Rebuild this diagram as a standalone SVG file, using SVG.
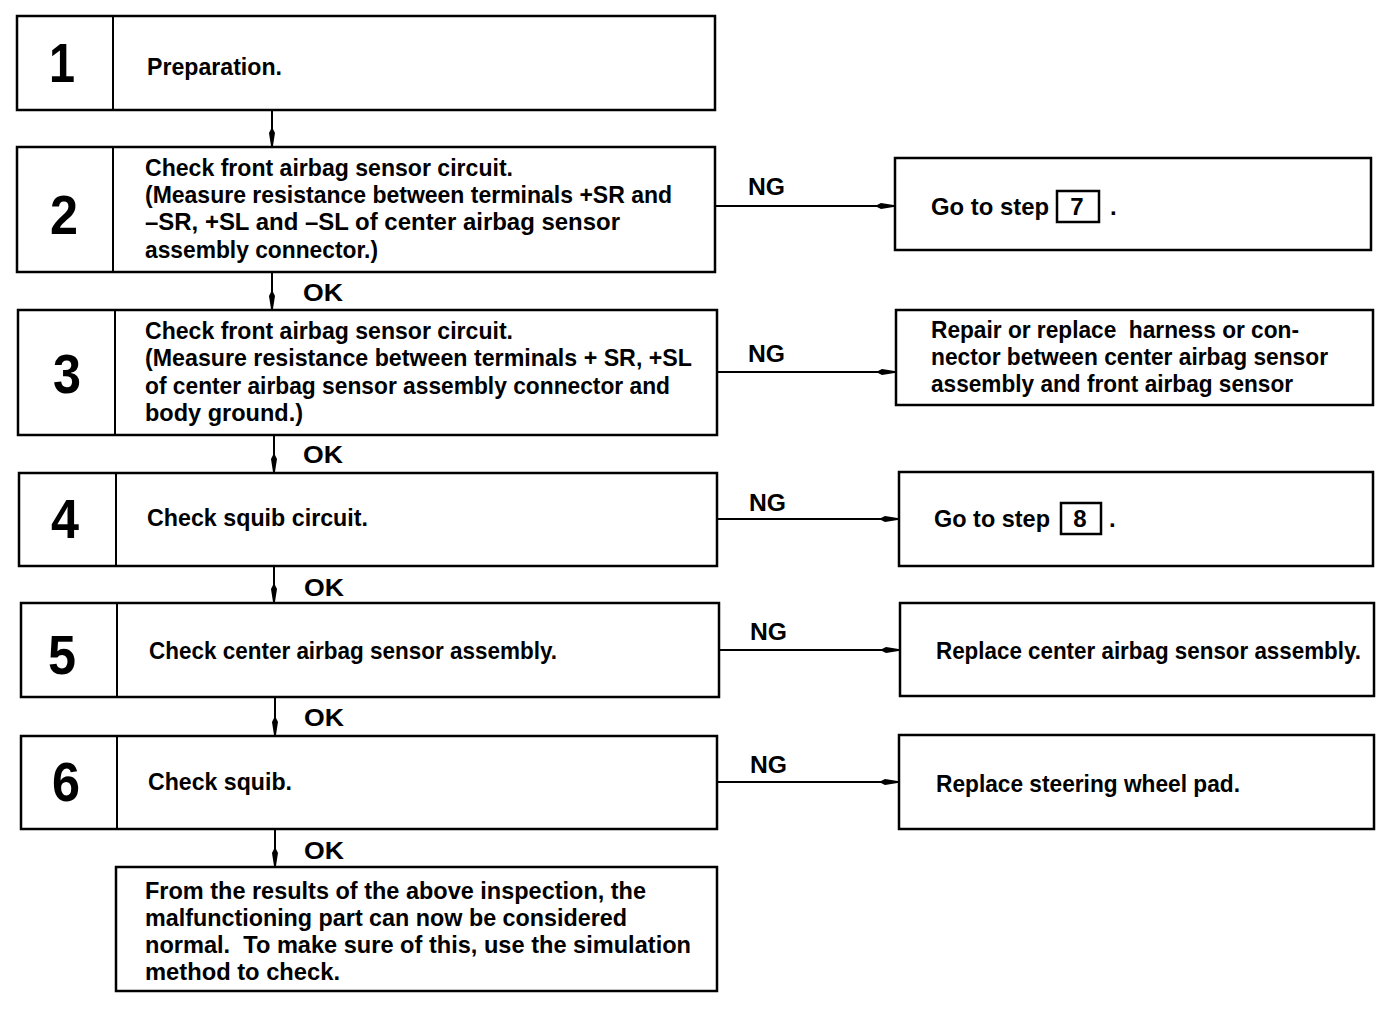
<svg xmlns="http://www.w3.org/2000/svg" width="1392" height="1010" viewBox="0 0 1392 1010">
<style>
.box{fill:#fff;stroke:#000;stroke-width:2.5}
.div{stroke:#000;stroke-width:2}
.t{font-family:"Liberation Sans",Arial,sans-serif;font-weight:bold;font-size:24px;fill:#000}
.num{font-family:"Liberation Sans",Arial,sans-serif;font-weight:bold;font-size:56px;fill:#000;text-anchor:middle}
.lbl{font-family:"Liberation Sans",Arial,sans-serif;font-weight:bold;font-size:23px;fill:#000}
.ln{stroke:#000;stroke-width:2;fill:none}
.sb{fill:#fff;stroke:#000;stroke-width:2.5}
</style>
<defs>
<marker id="ah" markerUnits="userSpaceOnUse" markerWidth="20" markerHeight="10" refX="20" refY="5" orient="auto">
<path d="M0,5 L6,2 L20,4.2 L20,5.8 L6,8 Z" fill="#000"/>
</marker>
</defs>
<rect width="1392" height="1010" fill="#fff"/>

<g id="connectors">
<line class="ln" x1="272" y1="110" x2="272" y2="147" marker-end="url(#ah)"/>
<line class="ln" x1="272" y1="272" x2="272" y2="310" marker-end="url(#ah)"/>
<line class="ln" x1="274" y1="435" x2="274" y2="473" marker-end="url(#ah)"/>
<line class="ln" x1="274" y1="566" x2="274" y2="603" marker-end="url(#ah)"/>
<line class="ln" x1="275" y1="697" x2="275" y2="736" marker-end="url(#ah)"/>
<line class="ln" x1="275" y1="829" x2="275" y2="867" marker-end="url(#ah)"/>
<line class="ln" x1="715" y1="206" x2="895" y2="206" marker-end="url(#ah)"/>
<line class="ln" x1="717" y1="372" x2="896" y2="372" marker-end="url(#ah)"/>
<line class="ln" x1="717" y1="519" x2="899" y2="519" marker-end="url(#ah)"/>
<line class="ln" x1="719" y1="650" x2="900" y2="650" marker-end="url(#ah)"/>
<line class="ln" x1="717" y1="782" x2="899" y2="782" marker-end="url(#ah)"/>
<text class="lbl" x="303" y="301" textLength="40" lengthAdjust="spacingAndGlyphs">OK</text>
<text class="lbl" x="303" y="463" textLength="40" lengthAdjust="spacingAndGlyphs">OK</text>
<text class="lbl" x="304" y="596" textLength="40" lengthAdjust="spacingAndGlyphs">OK</text>
<text class="lbl" x="304" y="726" textLength="40" lengthAdjust="spacingAndGlyphs">OK</text>
<text class="lbl" x="304" y="859" textLength="40" lengthAdjust="spacingAndGlyphs">OK</text>
<text class="lbl" x="748" y="195" textLength="37" lengthAdjust="spacingAndGlyphs">NG</text>
<text class="lbl" x="748" y="362" textLength="37" lengthAdjust="spacingAndGlyphs">NG</text>
<text class="lbl" x="749" y="511" textLength="37" lengthAdjust="spacingAndGlyphs">NG</text>
<text class="lbl" x="750" y="640" textLength="37" lengthAdjust="spacingAndGlyphs">NG</text>
<text class="lbl" x="750" y="773" textLength="37" lengthAdjust="spacingAndGlyphs">NG</text>
</g>

<g id="step1">
<rect class="box" x="17" y="16" width="698" height="94"/>
<line class="div" x1="113" y1="16" x2="113" y2="110"/>
<text class="num" x="62" y="82" textLength="26" lengthAdjust="spacingAndGlyphs">1</text>
<text class="t" x="147" y="75" textLength="135" lengthAdjust="spacingAndGlyphs">Preparation.</text>
</g>

<g id="step2">
<rect class="box" x="17" y="147" width="698" height="125"/>
<line class="div" x1="113" y1="147" x2="113" y2="272"/>
<text class="num" x="64" y="234" textLength="28" lengthAdjust="spacingAndGlyphs">2</text>
<text class="t" x="145" y="176" textLength="368" lengthAdjust="spacingAndGlyphs">Check front airbag sensor circuit.</text>
<text class="t" x="145" y="203" textLength="527" lengthAdjust="spacingAndGlyphs">(Measure resistance between terminals +SR and</text>
<text class="t" x="145" y="230" textLength="475" lengthAdjust="spacingAndGlyphs">–SR, +SL and –SL of center airbag sensor</text>
<text class="t" x="145" y="258" textLength="233" lengthAdjust="spacingAndGlyphs">assembly connector.)</text>
</g>

<g id="step3">
<rect class="box" x="18" y="310" width="699" height="125"/>
<line class="div" x1="115" y1="310" x2="115" y2="435"/>
<text class="num" x="67" y="393" textLength="28" lengthAdjust="spacingAndGlyphs">3</text>
<text class="t" x="145" y="339" textLength="368" lengthAdjust="spacingAndGlyphs">Check front airbag sensor circuit.</text>
<text class="t" x="145" y="366" textLength="547" lengthAdjust="spacingAndGlyphs">(Measure resistance between terminals + SR, +SL</text>
<text class="t" x="145" y="394" textLength="525" lengthAdjust="spacingAndGlyphs">of center airbag sensor assembly connector and</text>
<text class="t" x="145" y="421" textLength="158" lengthAdjust="spacingAndGlyphs">body ground.)</text>
</g>

<g id="step4">
<rect class="box" x="19" y="473" width="698" height="93"/>
<line class="div" x1="116" y1="473" x2="116" y2="566"/>
<text class="num" x="65" y="538" textLength="28" lengthAdjust="spacingAndGlyphs">4</text>
<text class="t" x="147" y="526" textLength="221" lengthAdjust="spacingAndGlyphs">Check squib circuit.</text>
</g>

<g id="step5">
<rect class="box" x="21" y="603" width="698" height="94"/>
<line class="div" x1="117" y1="603" x2="117" y2="697"/>
<text class="num" x="62" y="674" textLength="28" lengthAdjust="spacingAndGlyphs">5</text>
<text class="t" x="149" y="659" textLength="408" lengthAdjust="spacingAndGlyphs">Check center airbag sensor assembly.</text>
</g>

<g id="step6">
<rect class="box" x="21" y="736" width="696" height="93"/>
<line class="div" x1="117" y1="736" x2="117" y2="829"/>
<text class="num" x="66" y="801" textLength="28" lengthAdjust="spacingAndGlyphs">6</text>
<text class="t" x="148" y="790" textLength="144" lengthAdjust="spacingAndGlyphs">Check squib.</text>
</g>

<g id="final">
<rect class="box" x="116" y="867" width="601" height="124"/>
<text class="t" x="145" y="899" textLength="501" lengthAdjust="spacingAndGlyphs">From the results of the above inspection, the</text>
<text class="t" x="145" y="926" textLength="482" lengthAdjust="spacingAndGlyphs">malfunctioning part can now be considered</text>
<text class="t" x="145" y="953" textLength="546" lengthAdjust="spacingAndGlyphs" xml:space="preserve">normal.  To make sure of this, use the simulation</text>
<text class="t" x="145" y="980" textLength="195" lengthAdjust="spacingAndGlyphs">method to check.</text>
</g>

<g id="ng2">
<rect class="box" x="895" y="158" width="476" height="92"/>
<text class="t" x="931" y="215" textLength="118" lengthAdjust="spacingAndGlyphs">Go to step</text>
<rect class="sb" x="1057" y="191" width="42" height="31"/>
<text class="t" x="1077" y="215" text-anchor="middle">7</text>
<text class="t" x="1110" y="215">.</text>
</g>

<g id="ng3">
<rect class="box" x="896" y="310" width="477" height="95"/>
<text class="t" x="931" y="338" textLength="368" lengthAdjust="spacingAndGlyphs" xml:space="preserve">Repair or replace  harness or con-</text>
<text class="t" x="931" y="365" textLength="397" lengthAdjust="spacingAndGlyphs">nector between center airbag sensor</text>
<text class="t" x="931" y="392" textLength="362" lengthAdjust="spacingAndGlyphs">assembly and front airbag sensor</text>
</g>

<g id="ng4">
<rect class="box" x="899" y="472" width="474" height="94"/>
<text class="t" x="934" y="527" textLength="116" lengthAdjust="spacingAndGlyphs">Go to step</text>
<rect class="sb" x="1061" y="503" width="40" height="31"/>
<text class="t" x="1080" y="527" text-anchor="middle">8</text>
<text class="t" x="1109" y="527">.</text>
</g>

<g id="ng5">
<rect class="box" x="900" y="603" width="474" height="93"/>
<text class="t" x="936" y="659" textLength="425" lengthAdjust="spacingAndGlyphs">Replace center airbag sensor assembly.</text>
</g>

<g id="ng6">
<rect class="box" x="899" y="735" width="475" height="94"/>
<text class="t" x="936" y="792" textLength="304" lengthAdjust="spacingAndGlyphs">Replace steering wheel pad.</text>
</g>
</svg>
